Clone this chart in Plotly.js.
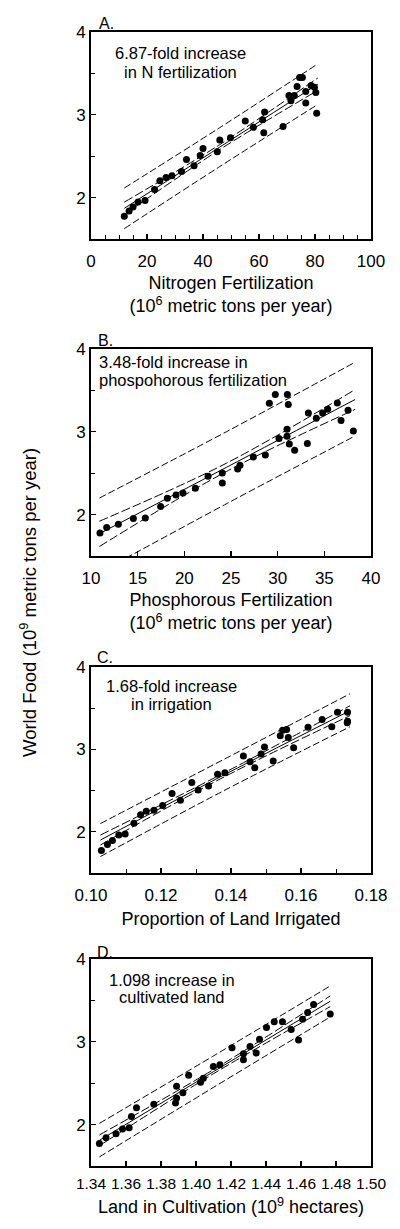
<!DOCTYPE html>
<html>
<head>
<meta charset="utf-8">
<script src="https://cdn.plot.ly/plotly-3.0.1.min.js"></script>
<style>
  html, body { margin: 0; padding: 0; background: #fff; }
  #chart { width: 400px; height: 1229px; }
</style>
</head>
<body>
<div id="chart"></div>
<script>
// ---- Panel A: Nitrogen fertilization ----
const nitroX = [11.9, 13.6, 15.0, 16.8, 19.3, 22.7, 24.6, 26.8, 28.9, 32.3, 34.1, 36.8, 39.0, 40.0, 45.1, 46.0, 49.8, 55.1, 58.0, 61.3, 62.0, 61.7, 68.6, 70.7, 71.4, 72.6, 73.6, 74.5, 75.5, 76.7, 76.7, 78.6, 79.8, 80.3, 80.6];
const nitroY = [1.774, 1.838, 1.887, 1.947, 1.964, 2.097, 2.202, 2.242, 2.263, 2.315, 2.461, 2.384, 2.509, 2.594, 2.554, 2.695, 2.723, 2.925, 2.848, 2.941, 3.034, 2.784, 2.857, 3.232, 3.168, 3.232, 3.341, 3.451, 3.451, 3.281, 3.143, 3.354, 3.333, 3.269, 3.018];
const nitroFitX = [11.9, 46, 81];
const nitroFit  = [1.87, 2.61, 3.37];
const nitroCiLo = [1.795, 2.58, 3.295];
const nitroCiHi = [1.945, 2.64, 3.445];
const nitroPiLo = [1.625, 2.375, 3.125];
const nitroPiHi = [2.115, 2.845, 3.615];

// ---- Panel B: Phosphorous fertilization ----
const phosX = [10.96, 11.68, 12.93, 14.54, 15.82, 17.46, 18.18, 19.11, 19.86, 21.18, 22.54, 24.07, 24.07, 25.71, 25.96, 27.39, 28.68, 29.11, 29.75, 30.14, 31.0, 31.0, 31.04, 31.14, 31.25, 31.82, 33.18, 33.29, 34.14, 34.82, 35.36, 36.39, 36.79, 37.54, 38.11];
const phosY = [1.779, 1.843, 1.883, 1.952, 1.960, 2.097, 2.197, 2.237, 2.262, 2.318, 2.463, 2.503, 2.382, 2.551, 2.596, 2.696, 2.720, 3.344, 3.449, 2.918, 3.030, 2.946, 3.449, 3.328, 2.853, 2.777, 2.857, 3.227, 3.163, 3.227, 3.272, 3.348, 3.135, 3.260, 3.010];
const phosFitX = [10.9, 24.5, 38.3];
const phosFit  = [1.77, 2.57, 3.39];
const phosCiLo = [1.615, 2.52, 3.27];
const phosCiHi = [1.92, 2.62, 3.51];
const phosPiLo = [1.30, 2.13, 2.95];
const phosPiHi = [2.20, 3.00, 3.84];

// ---- Panel C: Proportion of land irrigated ----
const irrX = [0.10297, 0.10469, 0.10612, 0.10794, 0.10976, 0.11225, 0.11416, 0.11579, 0.11799, 0.12048, 0.12316, 0.12555, 0.12880, 0.13062, 0.13359, 0.13617, 0.13828, 0.14354, 0.14545, 0.14679, 0.14861, 0.14957, 0.15206, 0.15407, 0.15474, 0.15589, 0.15636, 0.15789, 0.16201, 0.16603, 0.16880, 0.17043, 0.17330, 0.17330, 0.17320];
const irrY = [1.774, 1.847, 1.895, 1.960, 1.972, 2.105, 2.206, 2.250, 2.262, 2.319, 2.464, 2.383, 2.597, 2.508, 2.556, 2.698, 2.718, 2.919, 2.851, 2.778, 2.944, 3.028, 2.859, 3.165, 3.234, 3.242, 3.145, 3.020, 3.270, 3.363, 3.274, 3.452, 3.452, 3.343, 3.323];
const irrFitX = [0.1027, 0.138, 0.174];
const irrFit  = [1.90, 2.69, 3.47];
const irrCiLo = [1.84, 2.665, 3.41];
const irrCiHi = [1.96, 2.715, 3.53];
const irrPiLo = [1.70, 2.50, 3.275];
const irrPiHi = [2.10, 2.88, 3.675];

// ---- Panel D: Land in cultivation ----
const landX = [1.3448, 1.3486, 1.3543, 1.3580, 1.3618, 1.3631, 1.3660, 1.3759, 1.3883, 1.3889, 1.3889, 1.3925, 1.3958, 1.4026, 1.4042, 1.4099, 1.4137, 1.4206, 1.4271, 1.4271, 1.4309, 1.4363, 1.4344, 1.4403, 1.4447, 1.4494, 1.4544, 1.4586, 1.4609, 1.4638, 1.4672, 1.4767];
const landY = [1.773, 1.842, 1.890, 1.947, 1.963, 2.097, 2.203, 2.247, 2.260, 2.320, 2.462, 2.385, 2.596, 2.511, 2.560, 2.702, 2.722, 2.929, 2.856, 2.783, 2.945, 3.030, 2.864, 3.172, 3.241, 3.241, 3.148, 3.022, 3.274, 3.355, 3.452, 3.335];
const landFitX = [1.3448, 1.41, 1.4767];
const landFit  = [1.81, 2.64, 3.49];
const landCiLo = [1.745, 2.615, 3.425];
const landCiHi = [1.875, 2.665, 3.555];
const landPiLo = [1.61, 2.45, 3.30];
const landPiHi = [2.015, 2.83, 3.675];

// ---- Text ----
const panelLetters = ['A.', 'B.', 'C.', 'D.'];
const xTitles = [
  'Nitrogen Fertilization<br>(10<sup>6</sup> metric tons per year)',
  'Phosphorous Fertilization<br>(10<sup>6</sup> metric tons per year)',
  'Proportion of Land Irrigated',
  'Land in Cultivation (10<sup>9</sup> hectares)'
];
const yTitle = 'World Food (10<sup>9</sup> metric tons per year)';
const noteLines = [
  ['6.87-fold increase', 'in N fertilization'],
  ['3.48-fold increase in', 'phospohorous fertilization'],
  ['1.68-fold increase', 'in irrigation'],
  ['1.098 increase in', 'cultivated land']
];

const FONT = 'Liberation Sans, Arial, Helvetica, sans-serif';
const panels = [
  {x: nitroX, y: nitroY, fx: nitroFitX, f: nitroFit, cl: nitroCiLo, ch: nitroCiHi, pl: nitroPiLo, ph: nitroPiHi},
  {x: phosX, y: phosY, fx: phosFitX, f: phosFit, cl: phosCiLo, ch: phosCiHi, pl: phosPiLo, ph: phosPiHi},
  {x: irrX, y: irrY, fx: irrFitX, f: irrFit, cl: irrCiLo, ch: irrCiHi, pl: irrPiLo, ph: irrPiHi},
  {x: landX, y: landY, fx: landFitX, f: landFit, cl: landCiLo, ch: landCiHi, pl: landPiLo, ph: landPiHi}
];

const traces = [];
panels.forEach((p, i) => {
  const xa = i === 0 ? 'x' : 'x' + (i + 1);
  const ya = i === 0 ? 'y' : 'y' + (i + 1);
  const ln = (yy, dash, w) => ({x: p.fx, y: yy, xaxis: xa, yaxis: ya, mode: 'lines',
    line: {color: '#000', width: w, dash: dash, shape: 'spline', smoothing: 1}, hoverinfo: 'skip', showlegend: false});
  traces.push(ln(p.ph, '7px,3px', 1));
  traces.push(ln(p.pl, '7px,3px', 1));
  traces.push(ln(p.ch, '9px,3px', 1));
  traces.push(ln(p.cl, '9px,3px', 1));
  traces.push(ln(p.f, 'solid', 1));
  traces.push({x: p.x, y: p.y, xaxis: xa, yaxis: ya, mode: 'markers',
    marker: {color: '#000', size: 7}, showlegend: false});
});

const domains = [[0.8175, 1.0], [0.5379, 0.7205], [0.2584, 0.4400], [0.0, 0.1825]];
const xSpecs = [
  {range: [0, 100], dtick: 20, minor: 5, fmt: 'd', size: 17, lab: 6, st: 6},
  {range: [10, 40], dtick: 5, minor: null, fmt: 'd', size: 17, lab: 6, st: 6},
  {range: [0.10, 0.18], dtick: 0.02, minor: 0.01, fmt: '.2f', size: 17, lab: 6, st: 8},
  {range: [1.34, 1.50], dtick: 0.02, minor: null, fmt: '.2f', size: 15.5, lab: 2, st: 10}
];

const layout = {
  width: 400, height: 1229,
  margin: {l: 91, r: 29, t: 32, b: 63},
  paper_bgcolor: '#fff', plot_bgcolor: '#fff',
  font: {family: FONT, color: '#000', size: 17},
  showlegend: false,
  annotations: []
};

xSpecs.forEach((s, i) => {
  const k = i === 0 ? '' : String(i + 1);
  const ax = {
    domain: [0, 1], anchor: 'y' + k, range: s.range, tick0: s.range[0], dtick: s.dtick,
    tickformat: s.fmt, ticks: 'inside', ticklen: 5, tickwidth: 1.2, tickcolor: '#000',
    ticklabelstandoff: s.lab,
    showline: true, linewidth: 2, linecolor: '#000', mirror: true,
    showgrid: false, zeroline: false, fixedrange: true,
    tickfont: {family: FONT, size: s.size, color: '#000'},
    title: {text: xTitles[i], font: {family: FONT, size: 18, color: '#000'}, standoff: s.st}
  };
  if (s.minor) ax.minor = {dtick: s.minor, ticks: 'inside', ticklen: 4, tickwidth: 1, tickcolor: '#000', showgrid: false};
  layout['xaxis' + k] = ax;
  layout['yaxis' + k] = {
    domain: domains[i], anchor: 'x' + k, range: [1.5, 4], tickvals: [2, 3, 4],
    ticks: 'inside', ticklen: 5, tickwidth: 1.2, tickcolor: '#000',
    minor: {dtick: 0.5, tick0: 1.5, ticks: 'inside', ticklen: 4, tickwidth: 1, tickcolor: '#000', showgrid: false},
    showline: true, linewidth: 2, linecolor: '#000', mirror: true,
    showgrid: false, zeroline: false, fixedrange: true,
    tickfont: {family: FONT, size: 17, color: '#000'}
  };
});

// panel letters and notes
const letterPos = [[0.020, 1.040], [0.018, 1.040], [0.014, 1.044], [0.014, 1.034]];
const notePos = [
  {x: 0.318, y1: 0.854 + 0.046, y2: 0.854 - 0.046, anchor: 'center'},
  {x: 0.0225, y1: 0.894 + 0.044, y2: 0.894 - 0.044, anchor: 'left'},
  {x: 0.286, y1: 0.863 + 0.044, y2: 0.863 - 0.044, anchor: 'center'},
  {x: 0.291, y1: 0.858 + 0.043, y2: 0.858 - 0.043, anchor: 'center'}
];
panelLetters.forEach((t, i) => {
  const k = i === 0 ? '' : String(i + 1);
  layout.annotations.push({text: t, xref: 'x' + k + ' domain', yref: 'y' + k + ' domain',
    x: letterPos[i][0], y: letterPos[i][1], xanchor: 'left', yanchor: 'middle', showarrow: false,
    font: {family: FONT, size: 16, color: '#000'}});
  const n = notePos[i];
  [n.y1, n.y2].forEach((yy, j) => {
    layout.annotations.push({text: noteLines[i][j], xref: 'x' + k + ' domain', yref: 'y' + k + ' domain',
      x: n.x, y: yy, xanchor: n.anchor, yanchor: 'middle', showarrow: false,
      font: {family: FONT, size: 16.5, color: '#000'}});
  });
});

layout.annotations.push({text: yTitle, xref: 'paper', yref: 'paper', x: -0.225, y: 0.4965,
  xanchor: 'center', yanchor: 'middle', textangle: -90, showarrow: false,
  font: {family: FONT, size: 18.5, color: '#000'}});

Plotly.newPlot('chart', traces, layout, {staticPlot: true, displayModeBar: false});
</script>
</body>
</html>
